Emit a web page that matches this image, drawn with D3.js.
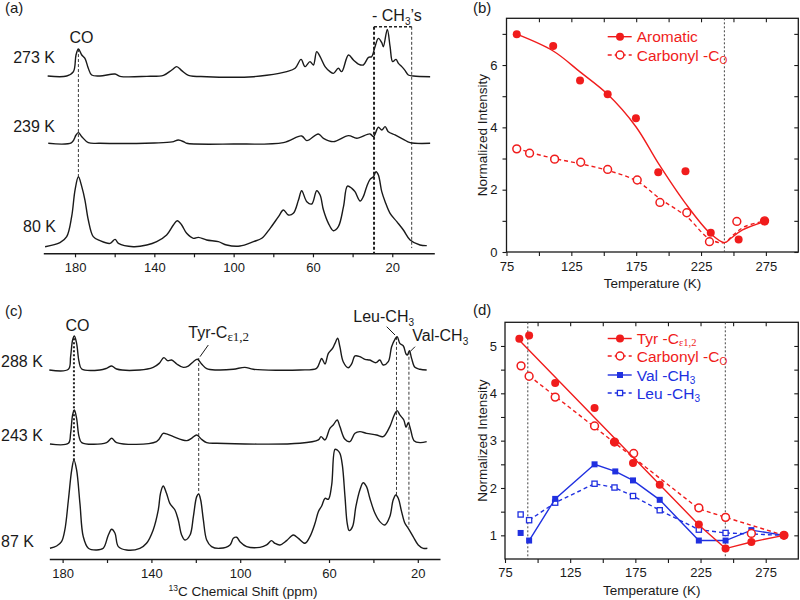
<!DOCTYPE html>
<html>
<head>
<meta charset="utf-8">
<script src="https://cdn.jsdelivr.net/npm/d3@7"></script>
<style>
  body { margin: 0; background: #fff; }
</style>
</head>
<body>
<script>
// ---- data ----------------------------------------------------------------
// spectra: [ppm, intensity (a.u.)]
var specA273 = [[193.8,0],[184.2,0],[180.8,6.3],[179.5,30.3],[178.3,38.9],[176.6,30.3],[175.0,25.5],[173.3,11.1],[171.6,1.4],[167.4,0],[159.8,2.9],[157.3,-0.5],[143.8,-0.5],[135.4,1],[131.2,8.7],[128.7,13.5],[126.2,7.7],[122.8,1],[113.6,-1],[100.1,-1.9],[90.0,-1],[83.3,1],[73.2,6.3],[69.0,11.1],[66.0,24.0],[64.0,13.5],[61.5,20.7],[59.8,15.9],[58.1,35.1],[56.4,27.9],[53.9,13.5],[51.4,6.3],[49.7,3.8],[47.2,11.1],[45.5,6.3],[42.1,30.3],[39.6,23.1],[37.1,17.3],[34.6,15.9],[32.0,26.9],[30.4,27.9],[28.7,42.3],[27.0,54.3],[25.3,48.1],[24.5,42.3],[22.5,67.3],[21.1,42.3],[19.8,20.7],[18.1,24.0],[16.9,18.3],[15.2,13.5],[13.5,7.7],[11.9,1.4],[9.3,0],[0.9,-1]];
var specA239 = [[193.5,0],[181.7,1],[179.5,12.0],[178.3,15.4],[176.6,9.6],[173.3,1],[167.4,0],[140,0.5],[131,2],[127.9,4.8],[125,2],[123.7,0],[100.1,-1],[74.9,1],[65.7,10.6],[63.1,3.8],[57.3,13.5],[54.7,7.2],[49.7,2.4],[42.1,11.1],[37.9,7.2],[31.2,13.5],[29.5,9.6],[27.0,23.1],[25.3,19.2],[23.6,24.0],[22.0,16.8],[18.6,12.0],[14.4,5.8],[11.0,1],[0.9,0]];
var specA80 = [[195.1,-1],[187.6,4.8],[184.2,13.5],[181.7,42.3],[180.0,80.8],[178.3,100],[176.6,85.6],[175.0,66.3],[173.3,37.5],[170.8,13.5],[167.4,7.7],[162.3,3.8],[159.8,9.6],[158.1,3.8],[150.6,-1],[143.8,1.4],[138.8,6.3],[133.8,15.9],[130.4,30.3],[128.4,36.5],[126.2,30.3],[123.7,18.3],[120.3,11.1],[117.8,12.5],[113.6,8.7],[107.7,6.3],[103.5,1.4],[96.8,0],[90.0,6.3],[85.8,11.1],[81.6,25.5],[77.4,42.3],[74.9,51.9],[72.4,44.7],[69.9,47.1],[67.3,66.3],[65.7,79.8],[63.1,63.9],[60.6,60.6],[58.1,79.8],[56.4,73.6],[54.7,51.9],[52.2,32.7],[49.7,22.1],[47.2,27.9],[44.6,56.7],[42.6,86.5],[40.4,83.2],[38.8,78.4],[36.2,64.9],[34.6,71.2],[32.9,85.6],[31.2,96.2],[29.5,100],[28.2,107.2],[27.0,102.4],[25.3,78.4],[23.6,63.9],[21.1,47.1],[17.7,35.1],[14.4,23.1],[11.0,8.7],[6.0,1.4],[2.6,0.5]];

var specC288 = [[186.0,0],[177.4,0.8],[176.4,15.1],[175.5,34.0],[174.7,38.5],[173.7,30.2],[172.6,9.4],[171.4,1.1],[163.2,0],[160.2,1.9],[157.9,4.5],[155.7,1.1],[145.2,0],[139.2,3.0],[136.5,7.5],[134.4,14.0],[132.7,10.6],[130.9,11.3],[128.6,6.8],[125.6,3.0],[123.4,4.5],[121.1,9.4],[119.3,12.1],[117.4,6.8],[115.1,1.5],[110.6,0],[103.1,0.8],[97.9,3.0],[94.1,0.8],[73.1,0],[65.6,1.9],[64.1,9.4],[63.3,13.2],[61.8,6.8],[60.3,18.9],[58.4,24.5],[57.3,30.2],[56.1,35.9],[55.1,26.4],[53.6,9.4],[51.3,2.6],[49.8,6.8],[48.3,15.9],[46.1,15.1],[43.8,12.1],[41.6,11.3],[38.9,8.3],[37.1,11.3],[35.6,5.7],[33.3,9.4],[31.8,26.4],[30.3,34.7],[29.3,37.7],[28.1,30.2],[26.5,27.2],[25.3,18.1],[24.7,17.0],[23.8,21.9],[22.8,13.2],[21.3,3.0],[19.0,0.8],[16.0,0]];
var specC243 = [[185.7,-0.8],[177.4,0],[176.4,11.3],[175.5,32.1],[174.7,37.7],[173.7,28.3],[172.6,7.5],[171.4,0.8],[160.2,0.8],[157.9,5.7],[155.7,0.8],[137.7,1.9],[134.7,11.3],[133.2,10.6],[130.1,7.5],[124.1,3.0],[121.9,5.7],[119.6,9.4],[117.4,4.5],[115.1,0.8],[110.6,0],[73.1,0],[64.8,3.8],[63.6,7.5],[61.8,3.8],[59.6,17.0],[58.1,20.8],[56.3,26.4],[55.1,18.9],[52.8,4.5],[50.6,1.9],[48.3,11.3],[46.1,13.2],[43.1,11.3],[38.6,9.4],[35.6,7.5],[32.6,18.9],[30.6,32.1],[29.3,37.0],[28.1,32.1],[26.3,26.4],[25.3,18.1],[24.3,23.4],[23.2,15.1],[21.7,3.0],[19.0,0.8],[16.0,1.9]];
var specC87 = [[185.7,0],[182.7,2.6],[180.5,7.5],[179.0,20.8],[177.4,54.7],[175.9,88.7],[174.9,100],[173.7,88.7],[172.2,50.9],[170.7,13.2],[168.4,0],[164.7,-1.9],[161.7,0],[159.4,15.1],[157.9,21.5],[156.4,17.0],[154.9,1.9],[151.2,-1.9],[145.2,0],[142.2,5.7],[139.2,20.8],[136.9,43.4],[135.9,62.3],[134.7,70.6],[133.2,62.3],[131.7,50.9],[129.4,43.4],[127.9,32.1],[126.4,15.1],[124.9,9.4],[122.6,15.1],[121.1,35.9],[119.6,58.5],[118.7,61.5],[117.8,54.7],[116.6,32.1],[115.1,9.4],[112.9,1.9],[109.1,0],[104.6,3.8],[103.1,11.3],[101.6,12.5],[100.1,7.5],[97.1,1.9],[91.1,1.1],[88.1,3.8],[85.9,8.7],[84.4,5.7],[82.1,3.8],[79.1,8.7],[76.1,15.1],[73.8,11.3],[70.8,5.7],[68.6,13.2],[66.3,28.3],[64.8,41.5],[63.3,47.9],[61.8,56.6],[60.3,55.5],[58.8,71.7],[57.3,112.1],[56.3,111.3],[55.1,107.6],[54.0,94.4],[52.8,58.5],[51.8,28.3],[50.9,20.0],[49.4,24.5],[47.9,47.2],[46.1,66.0],[44.6,74.3],[43.1,69.8],[41.6,56.6],[39.3,39.6],[37.1,30.2],[34.8,26.4],[32.6,35.9],[31.1,54.7],[29.9,60.4],[28.8,56.6],[27.3,41.5],[25.8,28.3],[24.3,22.6],[22.1,13.2],[19.8,3.8],[17.5,0],[15.7,0]];

var namesA = ["273 K", "239 K", "80 K"];
var namesC = ["288 K", "243 K", "87 K"];
var ppmTicks = [180, 160, 140, 120, 100, 80, 60, 40, 20];
var ppmLabels = [180, 140, 100, 60, 20];

// intensity vs temperature: [K, normalized intensity]
var bAromatic = [[82.9,6.99],[111,6.61],[131.7,5.5],[153,5.06],[174.8,4.29],[192,2.56],[213,2.59],[232.5,0.62],[254,0.4],[274,0.99]];
var bCarbonyl = [[82.9,3.31],[92.8,3.17],[112.1,2.98],[132.2,2.88],[153,2.65],[175.8,2.31],[193.3,1.59],[214,1.26],[231.5,0.33],[252.6,0.98],[274,1.0]];
var bAromaticFit = [[82.9,6.99],[111,6.45],[131.7,5.78],[153,5.06],[174.8,4.02],[192,2.85],[213,1.56],[232,0.6],[243,0.3],[248,0.44],[257,0.71],[274,0.98]];
var bCarbonylFit = [[82.9,3.33],[92.8,3.2],[112,3.0],[132,2.83],[153,2.62],[175.8,2.27],[193,1.72],[214,1.13],[231.5,0.42],[243,0.3],[250,0.55],[258,0.8],[274,1.0]];

var dTyr = [[86,5.15],[93.5,5.22],[113.5,4.22],[143.7,3.69],[159,2.97],[173.2,2.53],[193.7,2.07],[223.7,1.23],[244.2,0.72],[264,0.86],[289,1.0]];
var dTyrLine = [[86,5.12],[223.7,1.22],[244.2,0.72],[264,0.86],[289,1.0]];
var dCarbonyl = [[87.3,4.58],[93.5,4.36],[113.5,3.92],[143.7,3.31],[159,2.97],[173.7,2.73],[223.7,1.58],[244.2,1.38],[264,1.04],[289,1.0]];
var dCarbonylLine = [[93.5,4.37],[223.7,1.56],[244.2,1.38],[289,1.0]];
var dVal = [[87,1.05],[93.5,0.89],[113.5,1.77],[143.7,2.5],[159.6,2.35],[173.2,2.16],[193.7,1.75],[223.7,0.89],[244.2,0.89],[264,1.11],[289,1.0]];
var dLeu = [[87,1.44],[93.5,1.32],[113.5,1.69],[143.7,2.09],[159,2.01],[173.2,1.83],[193.7,1.53],[223.7,1.12],[244.2,1.05],[289,1.0]];

var tempTicks = [75, 100, 125, 150, 175, 200, 225, 250, 275];
var tempLabels = [75, 125, 175, 225, 275];
var bTicks = [0, 1, 2, 3, 4, 5, 6, 7];
var bLabels = [0, 2, 4, 6];
var dTicks = [1, 1.5, 2, 2.5, 3, 3.5, 4, 4.5, 5];
var dLabels = [1, 2, 3, 4, 5];

// ---- drawing -------------------------------------------------------------
var FONT = "'Liberation Sans', Arial, Helvetica, sans-serif";
var SERIF = "'Liberation Serif', 'Times New Roman', serif";
var RED = "#f01c1c", BLUE = "#2030e0", INK = "#1a1a1a";

var svg = d3.select("body").append("svg")
    .attr("width", 800).attr("height", 600)
    .style("font-family", FONT);
svg.append("rect").attr("width", 800).attr("height", 600).attr("fill", "#fff");

function label(g, x, y, s, size, anchor) {
    return g.append("text").attr("x", x).attr("y", y)
        .attr("font-size", size || 16).attr("fill", INK)
        .attr("text-anchor", anchor || "start").text(s);
}

function drawSpectra(p) {
    var g = svg.append("g");
    var x = d3.scaleLinear().domain(p.domain).range(p.range);
    var ys = p.bases.map(function(b) {
        return d3.scaleLinear().domain([0, 100]).range([b, b - 100 * p.k]);
    });

    p.guides.forEach(function(q) {
        var y1 = ys[q.from[0]](q.from[1]);
        var y2 = q.to === "axis" ? p.axisY : ys[q.to[0]](q.to[1]);
        g.append("line")
            .attr("x1", x(q.ppm)).attr("x2", x(q.ppm))
            .attr("y1", y1).attr("y2", y2)
            .attr("stroke", "#222").attr("stroke-width", q.w || 0.9)
            .attr("stroke-dasharray", q.dash || "3,2");
    });

    p.traces.forEach(function(t, i) {
        var line = d3.line()
            .x(function(d) { return x(d[0]); })
            .y(function(d) { return ys[i](d[1]); })
            .curve(d3.curveCatmullRom.alpha(0.5));
        g.append("path").datum(t).attr("d", line)
            .attr("fill", "none").attr("stroke", INK)
            .attr("stroke-width", 1.4).attr("stroke-linejoin", "round");
    });

    var ax = g.append("g").attr("transform", "translate(0," + p.axisY + ")")
        .call(d3.axisBottom(x).tickValues(ppmTicks).tickSize(4).tickSizeOuter(0).tickPadding(p.pad)
            .tickFormat(function(d) { return ppmLabels.indexOf(d) >= 0 ? d : ""; }));
    ax.attr("font-size", 13).attr("font-family", null);
    ax.select(".domain").attr("stroke", INK).attr("stroke-width", 1.6);
    ax.selectAll(".tick line").attr("stroke", INK).attr("stroke-width", 1.2);
    ax.selectAll(".tick text").attr("fill", INK);
    return { g: g, x: x, ys: ys };
}

// (a)
var pa = drawSpectra({
    domain: [196, -1.2], range: [43.3, 434.3], axisY: 253.3, pad: 5,
    bases: [76, 143.3, 246], k: 0.693,
    traces: [specA273, specA239, specA80],
    guides: [
        { ppm: 178.3, from: [0, 38.9], to: [2, 100] },
        { ppm: 29.2, from: [0, 71], to: "axis", w: 2, dash: "3,2" },
        { ppm: 10.2, from: [0, 71], to: [2, -3] }
    ]
});
pa.g.append("line")
    .attr("x1", pa.x(29.2)).attr("x2", pa.x(10.2))
    .attr("y1", pa.ys[0](71)).attr("y2", pa.ys[0](71))
    .attr("stroke", "#222").attr("stroke-width", 1.4).attr("stroke-dasharray", "3,2");
label(pa.g, 5, 13, "(a)", 15);
label(pa.g, 55, 62.5, namesA[0], 16, "end");
label(pa.g, 55, 131.5, namesA[1], 16, "end");
label(pa.g, 56, 232, namesA[2], 16, "end");
label(pa.g, 81.5, 43, "CO", 16, "middle");
var ch = label(pa.g, 372, 20.5, "- CH", 16);
ch.append("tspan").attr("font-size", 10).attr("dy", 4).text("3");
ch.append("tspan").attr("dy", -4).text("\u2019s");

// (c)
var pc = drawSpectra({
    domain: [186, 10], range: [49.3, 440], axisY: 559, pad: 6,
    bases: [370, 443.3, 548.3], k: 0.883,
    traces: [specC288, specC243, specC87],
    guides: [
        { ppm: 174.9, from: [0, 36], to: [2, 100], w: 2, dash: "2,2" },
        { ppm: 118.7, from: [0, 13.6], to: [2, 62] },
        { ppm: 29.6, from: [0, 37.5], to: [2, 60] },
        { ppm: 24.0, from: [0, 20.7], to: [2, 24] }
    ]
});
label(pc.g, 5, 316, "(c)", 15);
label(pc.g, 1, 366.5, namesC[0], 16);
label(pc.g, 1, 440.5, namesC[1], 16);
label(pc.g, 1, 546.5, namesC[2], 16);
label(pc.g, 77.5, 330.5, "CO", 16, "middle");
var tyr = label(pc.g, 188.3, 338, "Tyr-C", 16);
tyr.append("tspan").attr("font-family", SERIF)
    .attr("font-size", 13).attr("dy", 3).text("\u03b51,2");
var leu = label(pc.g, 353.3, 322, "Leu-CH", 16);
leu.append("tspan").attr("font-size", 10).attr("dy", 4).text("3");
var valT = label(pc.g, 412.3, 341, "Val-CH", 16);
valT.append("tspan").attr("font-size", 10).attr("dy", 4).text("3");
[[208.3, 345, 200, 356.7], [386.7, 326.7, 395, 335], [415, 346.7, 410, 351.7]].forEach(function(l) {
    pc.g.append("line").attr("x1", l[0]).attr("y1", l[1]).attr("x2", l[2]).attr("y2", l[3])
        .attr("stroke", INK).attr("stroke-width", 1);
});
var xl = label(pc.g, 243, 596, "", 13.5, "middle");
xl.append("tspan").attr("font-size", 8.5).attr("dy", -5).text("13");
xl.append("tspan").attr("dy", 5).text("C Chemical Shift (ppm)");

// temperature panels
function drawTemp(p) {
    var g = svg.append("g");
    var x = d3.scaleLinear().domain([75, 300]).range([p.left, p.right]);
    var y = d3.scaleLinear().domain(p.yDomain).range([p.bottom, p.top]);

    function style(a) {
        a.attr("font-size", 13).attr("font-family", null);
        a.select(".domain").remove();
        a.selectAll(".tick line").attr("stroke", INK).attr("stroke-width", 1.1);
        a.selectAll(".tick text").attr("fill", INK);
    }
    style(g.append("g").attr("transform", "translate(0," + p.bottom + ")")
        .call(d3.axisBottom(x).tickValues(tempTicks).tickSize(4).tickPadding(p.xPad)
            .tickFormat(function(d) { return tempLabels.indexOf(d) >= 0 ? d : ""; })));
    style(g.append("g").attr("transform", "translate(0," + p.top + ")")
        .call(d3.axisTop(x).tickValues(tempTicks.slice(1)).tickSize(-4).tickFormat("")));
    style(g.append("g").attr("transform", "translate(" + p.left + ",0)")
        .call(d3.axisLeft(y).tickValues(p.yTicks).tickSize(4).tickPadding(p.yPad)
            .tickFormat(function(d) { return p.yLabels.indexOf(d) >= 0 ? d : ""; })));
    style(g.append("g").attr("transform", "translate(" + p.right + ",0)")
        .call(d3.axisRight(y).tickValues(p.yTicks).tickSize(-4).tickFormat("")));
    g.append("rect").attr("x", p.left).attr("y", p.top)
        .attr("width", p.right - p.left).attr("height", p.bottom - p.top)
        .attr("fill", "none").attr("stroke", INK).attr("stroke-width", 1.3);

    p.vlines.forEach(function(t) {
        g.append("line").attr("x1", x(t)).attr("x2", x(t))
            .attr("y1", p.top).attr("y2", p.bottom)
            .attr("stroke", "#444").attr("stroke-width", 1).attr("stroke-dasharray", "2,2");
    });

    p.series.forEach(function(s) {
        var line = d3.line()
            .x(function(d) { return x(d[0]); })
            .y(function(d) { return y(d[1]); })
            .curve(s.curve || d3.curveLinear);
        g.append("path").datum(s.line).attr("d", line)
            .attr("fill", "none").attr("stroke", s.color).attr("stroke-width", 1.4)
            .attr("stroke-dasharray", s.dash ? "4,3" : null);
        drawMarks(g, s, s.points.map(function(d) { return [x(d[0]), y(d[1])]; }));
    });

    p.legend.forEach(function(e) {
        var s = p.series[e.s];
        var ly = e.y;
        g.append("line").attr("x1", 607.7).attr("x2", 631.7).attr("y1", ly).attr("y2", ly)
            .attr("stroke", s.color).attr("stroke-width", 1.4)
            .attr("stroke-dasharray", s.dash ? "4,3" : null);
        drawMarks(g, s, [[620, ly]]);
        var t = g.append("text").attr("x", 636.7).attr("y", ly + 5.5)
            .attr("font-size", 15.5).attr("fill", s.color).text(e.text);
        if (e.sub) {
            t.append("tspan").attr("font-size", e.subSize || 10).attr("dy", e.subDy || 3)
                .attr("font-family", e.serif ? SERIF : null)
                .text(e.sub);
        }
    });

    g.append("text").attr("transform", "translate(" + p.yTitleX + "," + ((p.top + p.bottom) / 2) + ") rotate(-90)")
        .attr("text-anchor", "middle").attr("dy", "0.35em")
        .attr("font-size", 13.5).attr("fill", INK).text("Normalized Intensity");
    g.append("text").attr("x", (p.left + p.right) / 2).attr("y", p.xTitleY)
        .attr("text-anchor", "middle").attr("font-size", 13.5).attr("fill", INK).text("Temperature (K)");
    label(g, 473, p.tagY, p.tag, 15);
}

function drawMarks(g, s, pts) {
    pts.forEach(function(p) {
        if (s.shape === "circle") {
            g.append("circle").attr("cx", p[0]).attr("cy", p[1]).attr("r", s.filled ? 4 : 3.9)
                .attr("fill", s.filled ? s.color : "#fff")
                .attr("stroke", s.color).attr("stroke-width", s.filled ? 0 : 1.5);
        } else {
            var h = s.filled ? 3 : 2.6;
            g.append("rect").attr("x", p[0] - h).attr("y", p[1] - h)
                .attr("width", 2 * h).attr("height", 2 * h)
                .attr("fill", s.filled ? s.color : "#fff")
                .attr("stroke", s.color).attr("stroke-width", s.filled ? 0 : 1.3);
        }
    });
}

// (b)
drawTemp({
    left: 506.5, right: 798.3, top: 18.3, bottom: 252,
    yDomain: [0, 7.5], yTicks: bTicks, yLabels: bLabels,
    xPad: 6, yPad: 5, yTitleX: 482, xTitleY: 288, tag: "(b)", tagY: 13,
    vlines: [243],
    series: [
        { points: bCarbonyl, line: bCarbonylFit, color: RED, dash: true, shape: "circle", filled: false,
          curve: d3.curveCatmullRom.alpha(0.5) },
        { points: bAromatic, line: bAromaticFit, color: RED, dash: false, shape: "circle", filled: true,
          curve: d3.curveCatmullRom.alpha(0.5) }
    ],
    legend: [
        { s: 1, y: 36.7, text: "Aromatic" },
        { s: 0, y: 55, text: "Carbonyl -C", sub: "O" }
    ]
});

// (d)
drawTemp({
    left: 505, right: 798.3, top: 322.3, bottom: 559,
    yDomain: [0.5, 5.5], yTicks: dTicks, yLabels: dLabels,
    xPad: 5, yPad: 4, yTitleX: 482.3, xTitleY: 595, tag: "(d)", tagY: 315,
    vlines: [92.5, 244],
    series: [
        { points: dLeu, line: dLeu.slice(1), color: BLUE, dash: true, shape: "square", filled: false },
        { points: dVal, line: dVal.slice(1), color: BLUE, dash: false, shape: "square", filled: true },
        { points: dCarbonyl, line: dCarbonylLine, color: RED, dash: true, shape: "circle", filled: false },
        { points: dTyr, line: dTyrLine, color: RED, dash: false, shape: "circle", filled: true }
    ],
    legend: [
        { s: 3, y: 338.5, text: "Tyr -C", sub: "\u03b51,2", serif: true, subSize: 10.5, subDy: 2 },
        { s: 2, y: 356, text: "Carbonyl -C", sub: "O" },
        { s: 1, y: 375, text: "Val -CH", sub: "3" },
        { s: 0, y: 393, text: "Leu -CH", sub: "3" }
    ]
});
</script>
</body>
</html>
